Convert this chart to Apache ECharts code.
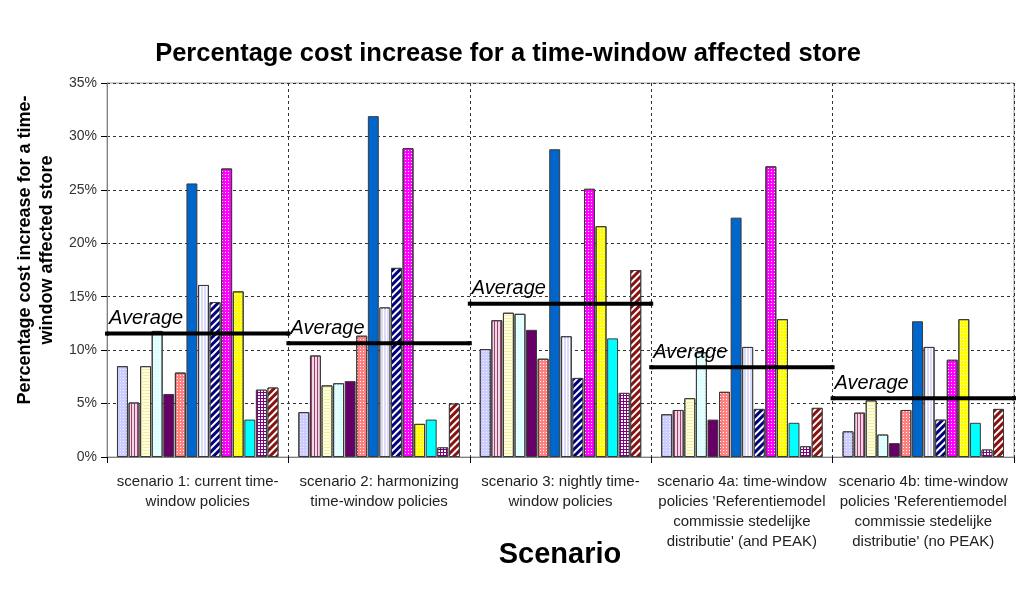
<!DOCTYPE html>
<html>
<head>
<meta charset="utf-8">
<script src="https://cdn.jsdelivr.net/npm/echarts@6/dist/echarts.min.js"></script>
<style>
  html, body { margin: 0; padding: 0; background: #fff; }
  #chart { width: 1016px; height: 595px; }
</style>
</head>
<body>
<div id="chart"></div>
<script>
// Scenario categories (x axis)
var categories = [
  "scenario 1: current time-\nwindow policies",
  "scenario 2: harmonizing\ntime-window policies",
  "scenario 3: nightly time-\nwindow policies",
  "scenario 4a: time-window\npolicies 'Referentiemodel\ncommissie stedelijke\ndistributie' (and PEAK)",
  "scenario 4b: time-window\npolicies 'Referentiemodel\ncommissie stedelijke\ndistributie' (no PEAK)"
];

// Percentage cost increase per store, one array per store (values per scenario)
var store01 = [8.5, 4.2, 10.1, 4.0, 2.4];
var store02 = [5.1, 9.5, 12.8, 4.4, 4.15];
var store03 = [8.5, 6.7, 13.5, 5.5, 5.3];
var store04 = [11.8, 6.9, 13.4, 9.8, 2.1];
var store05 = [5.9, 7.1, 11.9, 3.5, 1.3];
var store06 = [7.9, 11.35, 9.2, 6.1, 4.4];
var store07 = [25.6, 31.9, 28.8, 22.4, 12.7];
var store08 = [16.1, 14.0, 11.3, 10.3, 10.3];
var store09 = [14.5, 17.7, 7.4, 4.5, 3.5];
var store10 = [27.0, 28.9, 25.1, 27.2, 9.1];
var store11 = [15.5, 3.1, 21.6, 12.9, 12.9];
var store12 = [3.5, 3.5, 11.1, 3.2, 3.2];
var store13 = [6.3, 0.9, 6.0, 1.0, 0.7];
var store14 = [6.5, 5.0, 17.5, 4.6, 4.5];

// Average cost increase per scenario
var averages = [11.55, 10.65, 14.35, 8.4, 5.5];

// Y axis ticks (percent)
var yTicks = { min: 0, max: 35, step: 5 };

var storeData = [store01, store02, store03, store04, store05, store06, store07,
                 store08, store09, store10, store11, store12, store13, store14];

// Fill colour and hatch pattern for each store's bars
var dots = function (c) {
  return { symbol: 'rect', color: c, dashArrayX: [1, 2], dashArrayY: [1, 2] };
};
var styles = [
  { color: '#CCCCFF', decal: dots('#F0F0FF') },
  { color: '#F2D8E6', decal: { symbol: 'rect', color: '#A04070', dashArrayX: [1, 0], dashArrayY: [1, 2], rotation: Math.PI / 2 } },
  { color: '#FFFFE0', decal: { symbol: 'rect', color: '#F0F0A0', dashArrayX: [1, 0], dashArrayY: [1, 2] } },
  { color: '#DDFFFF', decal: dots('#FFFFFF') },
  { color: '#660066', decal: null },
  { color: '#FF8080', decal: dots('#FFFFFF') },
  { color: '#0066CC', decal: null },
  { color: '#DCDCF8', decal: { symbol: 'rect', color: '#FFFFFF', dashArrayX: [1, 0], dashArrayY: [1, 2], rotation: Math.PI / 2 } },
  { color: '#000080', decal: { symbol: 'rect', color: '#FFFFFF', dashArrayX: [1, 0], dashArrayY: [1.3, 2.2], rotation: -Math.PI / 4 } },
  { color: '#FF00FF', decal: dots('#FFFFFF') },
  { color: '#FFFF00', decal: dots('#FFFFFF') },
  { color: '#00FFFF', decal: null },
  { color: '#800080', decal: { symbol: 'rect', color: '#FFFFFF', dashArrayX: [2, 1], dashArrayY: [2, 1] } },
  { color: '#8B1010', decal: { symbol: 'rect', color: '#FFFFFF', dashArrayX: [1, 0], dashArrayY: [1.3, 2.2], rotation: -Math.PI / 4 } }
];

var FONT = 'Arial, "Liberation Sans", sans-serif';

var series = storeData.map(function (vals, i) {
  var s = styles[i];
  var itemStyle = { color: s.color, borderColor: '#3a3a3a', borderWidth: 1 };
  if (s.decal) itemStyle.decal = s.decal;
  return {
    type: 'bar',
    name: 'store ' + (i + 1),
    data: vals,
    xAxisIndex: 0,
    yAxisIndex: 0,
    barGap: '6%',
    barCategoryGap: '11%',
    itemStyle: itemStyle,
    silent: true
  };
});

// One thick black average segment spanning each scenario
averages.forEach(function (avg, i) {
  series.push({
    type: 'line',
    name: 'Average ' + (i + 1),
    xAxisIndex: 1,
    yAxisIndex: 0,
    symbol: 'rect',
    symbolSize: [4, 4],
    showSymbol: true,
    z: 5,
    silent: true,
    itemStyle: { color: '#000' },
    lineStyle: { color: '#000', width: 4 },
    data: [
      {
        value: [i, avg],
        label: {
          show: true,
          formatter: 'Average',
          position: 'top',
          align: 'left',
          distance: 3,
          offset: [2, 0],
          fontFamily: FONT,
          fontStyle: 'italic',
          fontSize: 20,
          color: '#000'
        }
      },
      [i + 1, avg]
    ]
  });
});

var chart = echarts.init(document.getElementById('chart'), null, { renderer: 'canvas' });
chart.setOption({
  backgroundColor: '#fff',
  animation: false,
  title: {
    text: 'Percentage cost increase for a time-window affected store',
    left: 'center',
    top: 36,
    textStyle: { fontFamily: FONT, fontWeight: 'bold', fontSize: 25.5, color: '#000' }
  },
  grid: {
    left: 107, right: 2, top: 83, bottom: 138,
    show: true, borderColor: '#a0a0a0', borderWidth: 1, backgroundColor: '#fff'
  },
  xAxis: [
    {
      type: 'category',
      data: categories,
      axisLine: { lineStyle: { color: '#808080', width: 1 } },
      axisTick: { show: true, length: 6, lineStyle: { color: '#000' } },
      splitLine: { show: true, lineStyle: { color: '#333', type: [3, 3], width: 1 } },
      axisLabel: {
        interval: 0,
        margin: 15,
        fontFamily: FONT,
        fontSize: 15,
        lineHeight: 20,
        color: '#222'
      }
    },
    {
      type: 'value',
      min: 0,
      max: 5,
      show: false
    }
  ],
  yAxis: {
    type: 'value',
    min: yTicks.min,
    max: yTicks.max,
    interval: yTicks.step,
    axisLine: { show: true, lineStyle: { color: '#808080', width: 1 } },
    axisTick: { show: true, length: 6, lineStyle: { color: '#000' } },
    splitLine: { show: true, lineStyle: { color: '#333', type: [3, 3], width: 1 } },
    axisLabel: {
      formatter: '{value}%',
      margin: 10,
      fontFamily: FONT,
      fontSize: 14,
      color: '#333'
    }
  },
  graphic: [
    {
      type: 'text',
      style: {
        text: 'Percentage cost increase for a time-\nwindow affected store',
        fontFamily: FONT,
        fontWeight: 'bold',
        fontSize: 18,
        lineHeight: 22,
        fill: '#000',
        textAlign: 'center',
        textVerticalAlign: 'middle'
      },
      x: 36,
      y: 250,
      rotation: Math.PI / 2
    },
    {
      type: 'text',
      style: {
        text: 'Scenario',
        fontFamily: FONT,
        fontWeight: 'bold',
        fontSize: 29,
        fill: '#000',
        textAlign: 'center',
        textVerticalAlign: 'middle'
      },
      x: 560,
      y: 555
    }
  ],
  series: series
});
</script>
</body>
</html>
